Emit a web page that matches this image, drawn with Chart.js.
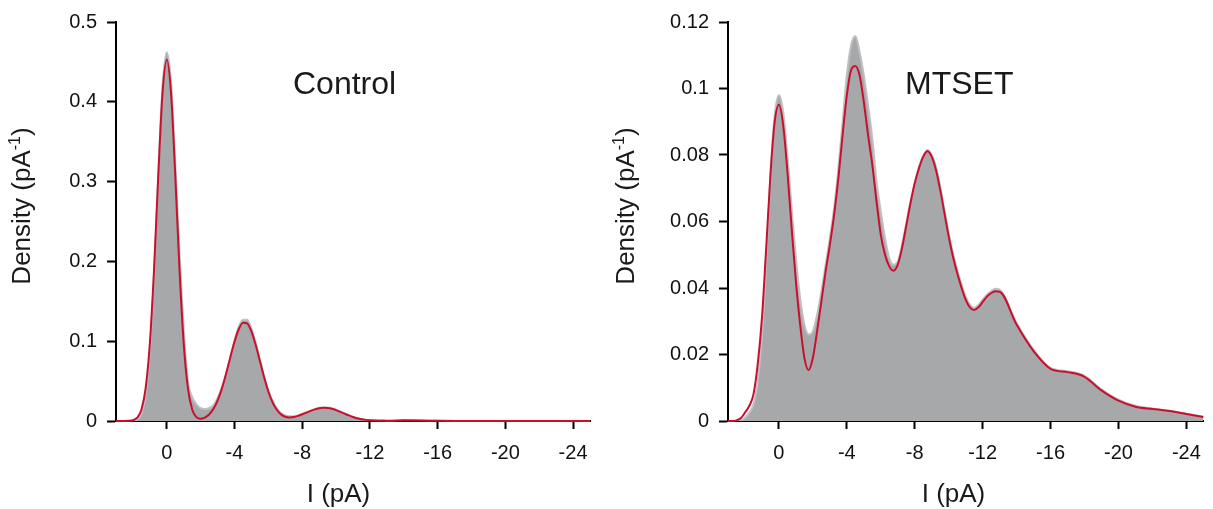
<!DOCTYPE html>
<html>
<head>
<meta charset="utf-8">
<script src="https://cdn.jsdelivr.net/npm/chart.js@4.4.1/dist/chart.umd.min.js"></script>
<style>
  html, body { margin: 0; padding: 0; background: #fff; }
  body { width: 1213px; height: 509px; position: relative; overflow: hidden; }
  canvas { position: absolute; top: 0; }
  #controlChart { left: 0; }
  #mtsetChart { left: 600px; }
</style>
</head>
<body>
<canvas id="controlChart" width="600" height="509"></canvas>
<canvas id="mtsetChart" width="613" height="509"></canvas>
<script>
// current (pA), shared by every series
const currentPA = [3,2.75,2.5,2.25,2,1.75,1.5,1.25,1,0.75,0.5,0.25,0,-0.25,-0.5,-0.75,-1,-1.25,-1.5,-1.75,
  -2,-2.25,-2.5,-2.75,-3,-3.25,-3.5,-3.75,-4,-4.25,-4.5,-4.75,-5,-5.25,-5.5,-5.75,-6,-6.25,-6.5,-6.75,
  -7,-7.25,-7.5,-7.75,-8,-8.25,-8.5,-8.75,-9,-9.25,-9.5,-9.75,-10,-10.25,-10.5,-10.75,-11,-11.25,-11.5,-11.75,
  -12,-12.25,-12.5,-12.75,-13,-14,-15,-16,-17,-18,-19,-20,-21,-22,-23,-24,-25];

// Control: histogram density and fit
const controlHist = [0,0,0,0,0.0003,0.002,0.009,0.032,0.088,0.185,0.31,0.42,0.462,0.425,0.325,0.21,0.115,0.05,0.03,0.021,
  0.016,0.015,0.016,0.02,0.029,0.042,0.059,0.08,0.101,0.118,0.127,0.127,0.116,0.098,0.077,0.056,0.038,0.025,0.016,0.01,
  0.007,0.006,0.006,0.007,0.009,0.011,0.013,0.015,0.0165,0.017,0.017,0.016,0.014,0.012,0.0095,0.0072,0.0052,0.0036,0.0024,0.0016,
  0.0011,0.0009,0.0008,0.0008,0.0008,0.0012,0.0006,0.0002,0,0,0,0,0,0,0,0,0];
const controlFit = [0,0,0,0.0002,0.001,0.0041,0.0142,0.0409,0.0972,0.1906,0.3084,0.4115,0.453,0.4115,0.3084,0.1906,0.0972,0.0409,0.0145,0.0049,
  0.0029,0.0043,0.0081,0.015,0.0255,0.0403,0.0588,0.0794,0.0993,0.115,0.1232,0.1223,0.1123,0.0955,0.0752,0.0548,0.037,0.0233,0.0141,0.0083,
  0.0054,0.0045,0.005,0.0064,0.0084,0.0105,0.0127,0.0146,0.016,0.0166,0.0163,0.0153,0.0136,0.0114,0.0092,0.007,0.005,0.0034,0.0022,0.0014,
  0.0008,0.0005,0.0003,0.0002,0.0001,0.0008,0.0006,0.0002,0,0,0,0,0,0,0,0,0];

// MTSET: histogram density and fit
const mtsetHist = [0,0,0,0.0002,0.001,0.0025,0.005,0.012,0.026,0.048,0.074,0.092,0.098,0.093,0.08,0.064,0.049,0.037,0.029,0.026,
  0.027,0.032,0.039,0.047,0.055,0.064,0.076,0.09,0.104,0.113,0.1158,0.111,0.104,0.095,0.085,0.072,0.063,0.055,0.049,0.047,
  0.048,0.053,0.0595,0.066,0.0715,0.0765,0.0798,0.0815,0.08,0.0765,0.0705,0.0635,0.0565,0.0505,0.0455,0.0412,0.0375,0.035,0.034,0.035,
  0.0365,0.038,0.039,0.0398,0.0395,0.0295,0.0215,0.016,0.015,0.0136,0.0095,0.0064,0.0046,0.0038,0.0031,0.0022,0.0013];
const mtsetFit = [0,0,0.0002,0.0008,0.0025,0.0045,0.008,0.017,0.031,0.052,0.074,0.09,0.0951,0.089,0.075,0.058,0.042,0.029,0.019,0.0153,
  0.019,0.027,0.036,0.045,0.053,0.062,0.073,0.086,0.098,0.1055,0.1068,0.104,0.096,0.086,0.077,0.066,0.056,0.05,0.0465,0.0452,
  0.047,0.052,0.0587,0.0655,0.0715,0.076,0.0795,0.0811,0.0795,0.0755,0.0695,0.0625,0.0555,0.0495,0.0445,0.0402,0.0365,0.0342,0.0334,0.0342,
  0.0358,0.0374,0.0385,0.039,0.0389,0.029,0.021,0.0157,0.0147,0.0133,0.0092,0.0061,0.0043,0.0036,0.003,0.0021,0.0012];

const xTicks = [0,-4,-8,-12,-16,-20,-24];
const controlYTicks = [0,0.1,0.2,0.3,0.4,0.5];
const mtsetYTicks = [0,0.02,0.04,0.06,0.08,0.1,0.12];

const FONT = '"Liberation Sans", Arial, Helvetica, sans-serif';
const INK = '#111';

const toPoints = (ys) => currentPA.map((x, i) => ({x: x, y: ys[i]}));

// axis titles and panel name, drawn on top of the chart
const panelText = {
  id: 'panelText',
  afterDraw(chart, args, opts) {
    const ctx = chart.ctx;
    ctx.save();
    ctx.fillStyle = '#1a1a1a';
    ctx.textBaseline = 'alphabetic';

    ctx.font = '32px ' + FONT;
    ctx.textAlign = 'left';
    ctx.fillText(opts.label, opts.labelX, 93.5);

    ctx.font = '26px ' + FONT;
    ctx.textAlign = 'center';
    ctx.fillText('I (pA)', opts.xTitleX, 501.5);

    // rotated y title with superscript
    ctx.translate(opts.yTitleX, 206);
    ctx.rotate(-Math.PI / 2);
    ctx.textAlign = 'left';
    const main = 'Density (pA', sup = '-1', close = ')';
    ctx.font = '26px ' + FONT;
    const w1 = ctx.measureText(main).width, w3 = ctx.measureText(close).width;
    ctx.font = '16px ' + FONT;
    const w2 = ctx.measureText(sup).width;
    let x0 = -(w1 + w2 + w3) / 2;
    ctx.font = '26px ' + FONT;
    ctx.fillText(main, x0, 0);
    ctx.font = '16px ' + FONT;
    ctx.fillText(sup, x0 + w1, -10);
    ctx.font = '26px ' + FONT;
    ctx.fillText(close, x0 + w1 + w2, 0);
    ctx.restore();
  }
};

function makeChart(id, hist, fit, yTicks, yMax, yWidth, padRight, text) {
  const ctx = document.getElementById(id).getContext('2d');
  return new Chart(ctx, {
    type: 'line',
    data: {
      datasets: [
        {
          label: 'fit',
          data: toPoints(fit),
          borderColor: '#c8102e',
          borderWidth: 2,
          pointRadius: 0,
          fill: false,
          cubicInterpolationMode: 'monotone',
          clip: 4,
          order: 1
        },
        {
          label: 'histogram',
          data: toPoints(hist),
          borderColor: '#bfc0c2',
          borderWidth: 2,
          backgroundColor: '#a7a8aa',
          pointRadius: 0,
          fill: 'origin',
          cubicInterpolationMode: 'monotone',
          order: 2
        }
      ]
    },
    options: {
      responsive: false,
      devicePixelRatio: 1,
      animation: false,
      layout: { padding: { top: 20, right: padRight, bottom: 0, left: 0 } },
      plugins: {
        legend: { display: false },
        tooltip: { enabled: false },
        panelText: text
      },
      scales: {
        x: {
          type: 'linear',
          reverse: true,
          min: -25,
          max: 3,
          afterBuildTicks: (s) => { s.ticks = xTicks.map(v => ({value: v})); },
          afterFit: (s) => { s.height = 88; },
          ticks: {
            autoSkip: false,
            maxRotation: 0,
            color: INK,
            padding: 12,
            font: { size: 20, family: FONT },
            callback: (v) => String(v)
          },
          border: { display: true, color: '#000', width: 2 },
          grid: { drawOnChartArea: false, drawTicks: true, tickLength: 8, tickWidth: 2, tickColor: '#000' }
        },
        y: {
          min: 0,
          max: yMax,
          afterBuildTicks: (s) => { s.ticks = yTicks.map(v => ({value: v})); },
          afterFit: (s) => { s.width = yWidth; },
          ticks: {
            color: INK,
            padding: 10,
            font: { size: 20, family: FONT },
            callback: (v) => String(Math.round(v * 1000) / 1000)
          },
          border: { display: true, color: '#000', width: 2 },
          grid: { drawOnChartArea: false, drawTicks: true, tickLength: 9, tickWidth: 2, tickColor: '#000' }
        }
      }
    },
    plugins: [panelText]
  });
}

makeChart('controlChart', controlHist, controlFit, controlYTicks, 0.5, 116, 10,
  { label: 'Control', labelX: 293, xTitleX: 338.5, yTitleX: 30 });
makeChart('mtsetChart', mtsetHist, mtsetFit, mtsetYTicks, 0.12, 128, 5,
  { label: 'MTSET', labelX: 305, xTitleX: 353.5, yTitleX: 34 });
</script>
</body>
</html>
